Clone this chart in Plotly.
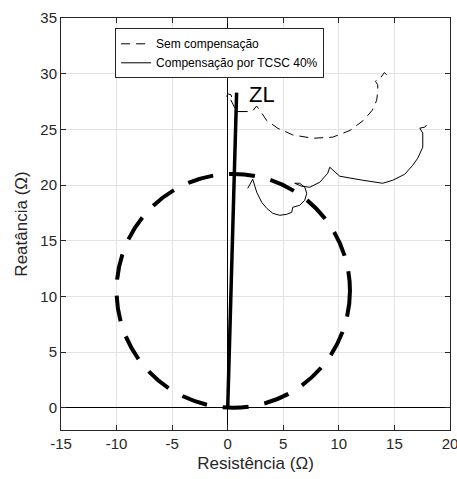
import plotly.graph_objects as go

# Trajectory without compensation (dashed)
sem_r = [14.3, 14.1, 13.8, 13.5, 13.3, 13.5, 13.5, 13.4, 13.0, 12.2, 11.0, 9.45, 7.65, 5.85,
         4.5, 3.5, 2.9, 2.6, 2.2, 1.7, 0.8, 0.5, 0.2, -0.1, 0.0, 0.3, 0.4, 0.1]
sem_x = [29.9, 30.1, 29.7, 29.6, 29.3, 29.0, 28.4, 27.6, 26.7, 25.8, 24.9, 24.3, 24.2, 24.5,
         25.1, 25.8, 26.7, 27.1, 26.6, 26.6, 26.6, 27.2, 27.8, 27.9, 28.2, 28.1, 27.7, 27.6]

# Trajectory with TCSC 40% compensation (solid)
tcsc_r = [17.9, 17.73, 17.28, 17.55, 17.55, 17.1, 16.65, 15.93, 14.85, 13.95, 12.15, 10.08,
          9.18, 9.0, 8.28, 7.38, 6.66, 6.03, 6.48, 6.93, 7.11, 6.93, 6.48, 5.85, 5.76, 5.31,
          4.68, 4.05, 3.51, 3.06, 2.61, 2.34, 2.25, 1.8]
tcsc_x = [25.4, 25.2, 25.11, 24.66, 23.4, 22.41, 21.78, 20.97, 20.43, 20.16, 20.43, 20.79,
          21.6, 21.06, 20.25, 19.8, 19.89, 20.16, 20.16, 19.8, 19.26, 18.63, 18.18, 18.0, 17.55,
          17.37, 17.28, 17.46, 17.91, 18.45, 19.35, 20.16, 20.52, 19.7]
tcsc_end_r = [0.8, 1.7]
tcsc_end_x = [26.6, 26.6]

# Line impedance ZL
zl_r = [0.0, 0.8]
zl_x = [0.0, 28.3]

# Mho characteristic circle: center and radius
circle_center = [0.5, 10.5]
circle_radius = 10.5

x_ticks = [-15, -10, -5, 0, 5, 10, 15, 20]
x_tick_labels = ["-15", "-10", "-5", "0", "5", "10", "15", "20"]
y_ticks = [0, 5, 10, 15, 20, 25, 30, 35]
y_tick_labels = ["0", "5", "10", "15", "20", "25", "30", "35"]

FONT = "Liberation Sans, Arial"

fig = go.Figure()

fig.add_trace(go.Scatter(x=sem_r, y=sem_x, mode="lines", name="Sem compensação",
                         line=dict(color="black", width=1, dash="9px,6px")))
fig.add_trace(go.Scatter(x=tcsc_r, y=tcsc_x, mode="lines", name="Compensação por TCSC 40%",
                         line=dict(color="black", width=1)))
fig.add_trace(go.Scatter(x=tcsc_end_r, y=tcsc_end_x, mode="lines", showlegend=False,
                         line=dict(color="black", width=1)))
fig.add_trace(go.Scatter(x=zl_r, y=zl_x, mode="lines", showlegend=False,
                         line=dict(color="black", width=3.5)))

cx, cy = circle_center
fig.add_shape(type="circle", xref="x", yref="y",
              x0=cx - circle_radius, x1=cx + circle_radius,
              y0=cy - circle_radius, y1=cy + circle_radius,
              line=dict(color="black", width=4, dash="26px,16px"))

fig.add_annotation(x=1.7, y=28.1, text="ZL", showarrow=False,
                   xanchor="left", yanchor="middle",
                   font=dict(family=FONT, size=22, color="black"))

axis_common = dict(showgrid=True, gridcolor="#e3e3e3", gridwidth=1,
                   showline=True, linecolor="#262626", linewidth=1, mirror="ticks",
                   ticks="inside", ticklen=5, tickcolor="#262626",
                   zeroline=True, zerolinecolor="black", zerolinewidth=1,
                   automargin=False, ticklabeloverflow="allow",
                   tickfont=dict(family=FONT, size=15, color="#262626"))

fig.update_xaxes(range=[-15, 20], tickvals=x_ticks, ticktext=x_tick_labels,
                 title=dict(text="Resistência (Ω)", standoff=6,
                            font=dict(family=FONT, size=17, color="#262626")),
                 **axis_common)
fig.update_yaxes(range=[-2, 35], tickvals=y_ticks, ticktext=y_tick_labels,
                 title=dict(text="Reatância (Ω)", standoff=8,
                            font=dict(family=FONT, size=17, color="#262626")),
                 **axis_common)

fig.update_layout(
    width=457, height=479,
    margin=dict(l=61, r=7, t=18, b=49),
    plot_bgcolor="white", paper_bgcolor="white",
    legend=dict(x=0.139, y=0.975, xanchor="left", yanchor="top",
                bgcolor="white", bordercolor="#262626", borderwidth=1,
                font=dict(family=FONT, size=12, color="black"),
                tracegroupgap=0, itemwidth=30),
    showlegend=True,
)

fig.write_html("out.html", config={"displayModeBar": False},
               post_script="document.body.style.margin='0';document.body.style.overflow='hidden';")
